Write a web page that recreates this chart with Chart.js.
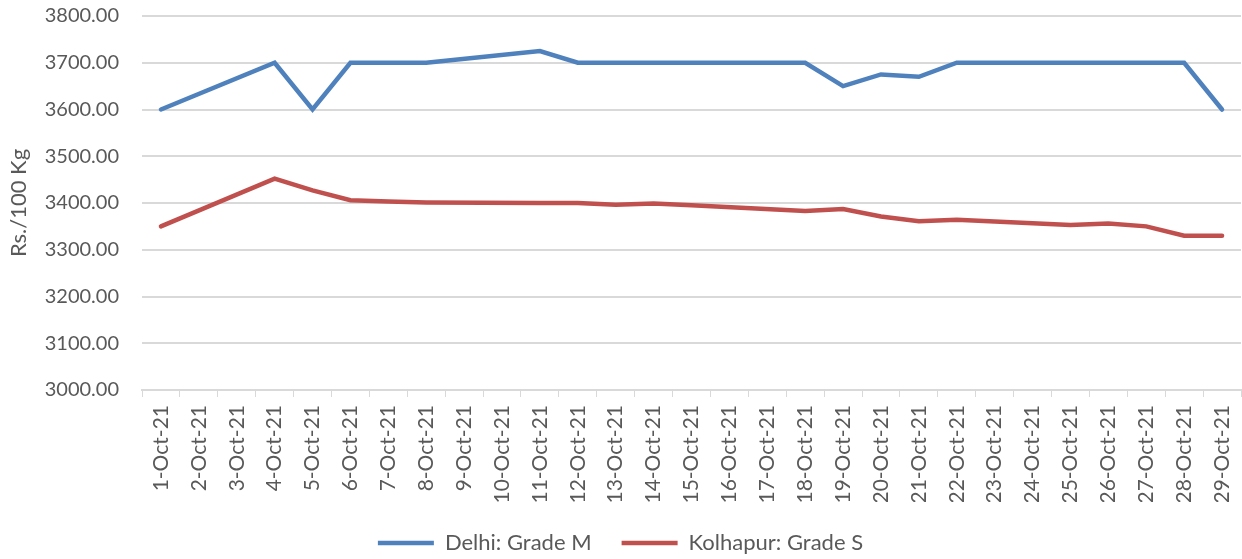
<!DOCTYPE html>
<html>
<head>
<meta charset="utf-8">
<script src="https://cdn.jsdelivr.net/npm/chart.js@4.4.0/dist/chart.umd.min.js"></script>
<style>
  html, body { margin: 0; padding: 0; background: #fff; }
</style>
</head>
<body>
<canvas id="display1" width="1242" height="559"></canvas>
<script>
// 日付
var dates = ['1-Oct-21', '2-Oct-21', '3-Oct-21', '4-Oct-21', '5-Oct-21', '6-Oct-21', '7-Oct-21',
             '8-Oct-21', '9-Oct-21', '10-Oct-21', '11-Oct-21', '12-Oct-21', '13-Oct-21', '14-Oct-21',
             '15-Oct-21', '16-Oct-21', '17-Oct-21', '18-Oct-21', '19-Oct-21', '20-Oct-21', '21-Oct-21',
             '22-Oct-21', '23-Oct-21', '24-Oct-21', '25-Oct-21', '26-Oct-21', '27-Oct-21', '28-Oct-21',
             '29-Oct-21'];

// 価格 (null = no quote that day)
var delhi_prices = [3600, null, null, 3700, 3600, 3700, 3700, 3700, null, null, 3725, 3700, 3700, 3700,
                    3700, null, null, 3700, 3650, 3675, 3670, 3700, null, null, 3700, 3700, 3700, 3700,
                    3600];
var kolhapur_prices = [3350, null, null, 3452, 3427, 3406, 3403, 3401, null, null, 3400, 3400, 3396, 3399,
                       3395, null, null, 3383, 3387, 3371, 3361, 3364, null, null, 3353, 3356, 3350, 3330,
                       3330];

var y_min = 3000, y_max = 3800, y_step = 100;

(function() {
  'use strict';

  var font_family = 'Lato, "Open Sans", sans-serif';
  var text_color = '#595959';
  var grid_color = '#d9d9d9';

  var data = {
    labels: dates,
    datasets: [
      {
        label: 'Delhi: Grade M',
        data: delhi_prices,
        borderColor: '#4f81bd',
        backgroundColor: '#4f81bd',
        borderWidth: 4.5,
        borderCapStyle: 'round',
        pointRadius: 0,
        tension: 0,
        spanGaps: true
      },
      {
        label: 'Kolhapur: Grade S',
        data: kolhapur_prices,
        borderColor: '#c0504d',
        backgroundColor: '#c0504d',
        borderWidth: 4.5,
        borderCapStyle: 'round',
        pointRadius: 0,
        tension: 0,
        spanGaps: true
      }
    ]
  };

  var options = {
    responsive: false,
    devicePixelRatio: 1,
    animation: false,
    layout: { padding: { top: 16, right: 1, left: 0, bottom: -5 } },
    plugins: {
      tooltip: { enabled: false },
      legend: {
        position: 'bottom',
        labels: {
          usePointStyle: true,
          pointStyle: 'line',
          pointStyleWidth: 56,
          padding: 30,
          color: text_color,
          font: { family: font_family, size: 22 }
        }
      }
    },
    scales: {
      x: {
        offset: true,
        grid: {
          offset: true,
          drawOnChartArea: false,
          drawTicks: true,
          tickLength: 7,
          color: grid_color
        },
        border: { color: grid_color, width: 2 },
        ticks: {
          autoSkip: false,
          maxRotation: 90,
          minRotation: 90,
          padding: 8,
          color: text_color,
          font: { family: font_family, size: 21 }
        },
        // 回転ラベルの余白を消して右端まで描く
        afterFit: function(scale) {
          scale.height = 112;
          scale.paddingLeft = 0;
          scale.paddingRight = 0;
        }
      },
      y: {
        min: y_min,
        max: y_max,
        border: { display: false },
        // 目盛線は透明にして、ラベルとの間隔だけ取る
        grid: { color: grid_color, lineWidth: 2, drawTicks: true, tickLength: 20, tickColor: 'rgba(0,0,0,0)' },
        ticks: {
          stepSize: y_step,
          padding: 3,
          color: text_color,
          font: { family: font_family, size: 20 },
          callback: function(v) { return v.toFixed(2); }
        },
        title: {
          display: true,
          text: 'Rs./100 Kg',
          color: text_color,
          padding: { top: 6, bottom: 0 },
          font: { family: font_family, size: 22 }
        },
        afterFit: function(scale) { scale.width = 142; }
      }
    }
  };

  var ctx = document.getElementById('display1').getContext('2d');
  new Chart(ctx, { type: 'line', data: data, options: options });
})();
</script>
</body>
</html>
